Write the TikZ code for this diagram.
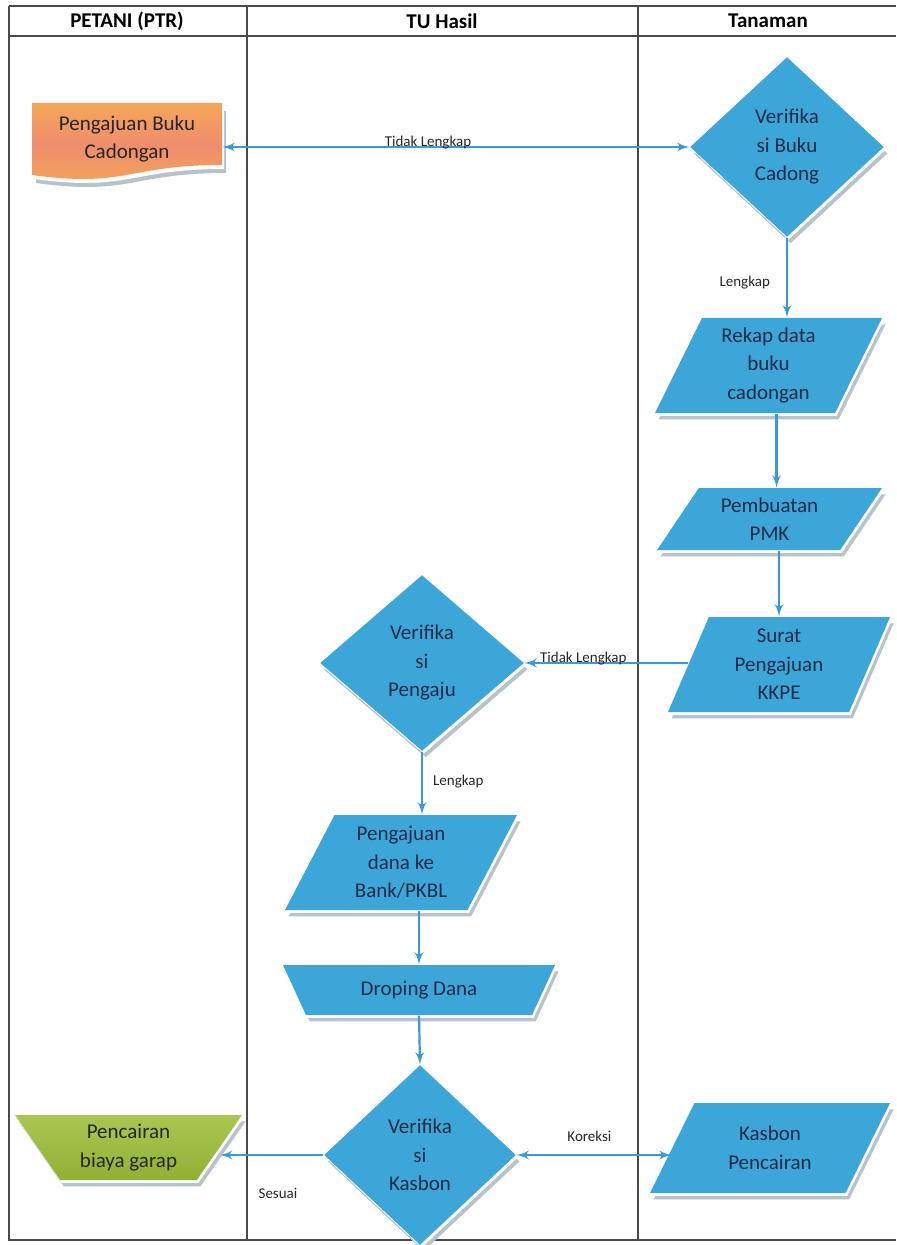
\documentclass[tikz,border=0pt]{standalone}
\usepackage{fontspec}
\setmainfont{Carlito}
\usetikzlibrary{
    arrows,
    shapes.geometric,
    shadows
}

\definecolor{flowblue}{HTML}{3DA6D9}
\definecolor{linkblue}{HTML}{3A9AD6}
\definecolor{navy}{HTML}{1D2B48}
\definecolor{framegrey}{HTML}{4A4A4A}
\definecolor{shadegrey}{HTML}{B7C2CA}
\definecolor{docorange}{HTML}{F5A65A}
\definecolor{docsalmon}{HTML}{EF8D6E}
\definecolor{garaplight}{HTML}{AAC653}
\definecolor{garapdark}{HTML}{92B132}

\begin{document}
\begin{tikzpicture}[x=0.5pt,y=-0.5pt,->,>=latex',semithick]
    \tikzstyle{every node}=[font=\fontsize{10.5}{14.25}\selectfont, align = center]
    \tikzstyle{bevel}=[drop shadow={shadow xshift=1.8pt, shadow yshift=-3.2pt, fill=shadegrey, opacity=1},
                       drop shadow={shadow xshift=0.8pt, shadow yshift=-1.4pt, fill=white, opacity=1}]
    \tikzstyle{decision}=[diamond, fill=flowblue, text=navy, inner sep=0pt, bevel]
    \tikzstyle{iobox}=[trapezium, trapezium stretches body=true, fill=flowblue, text=navy, inner xsep=1pt, bevel]
    \tikzstyle{manual}=[trapezium, trapezium stretches body=true, shape border rotate=180, inner xsep=1pt, bevel]
    \tikzstyle{lane}=[-, framegrey, line width=0.6pt]
    \tikzstyle{flow}=[linkblue, line width=1.1pt]
    \tikzstyle{tag}=[font=\fontsize{7.5}{9}\selectfont, text=black!85, inner sep=0pt]

    \useasboundingbox (0,0) rectangle (896,1245);

    \draw [lane, line width=1.2pt] (9,6) -- (896,6);
    \draw [lane] (9,36) -- (896,36);
    \draw [lane] (9,6) -- (9,1240) -- (896,1240);
    \draw [lane] (247,6) -- (247,1240);
    \draw [lane] (638,6) -- (638,1240);

    \node [font=\bfseries\fontsize{10.5}{14}\selectfont] (hPetani) at (127,21) {PETANI (PTR)};
    \node [font=\bfseries\fontsize{10.5}{14}\selectfont] (hTU) at (442,21) {TU Hasil};
    \node [font=\bfseries\fontsize{10.5}{14}\selectfont] (hTanaman) at (768,21) {Tanaman};

    \fill [-, shadegrey, shift={(4,8)}] (32,103) -- (222,103) -- (222,165) .. controls (127,165) and (127,188) .. (32,175) -- cycle;
    \fill [-, white, shift={(2,4)}] (32,103) -- (222,103) -- (222,165) .. controls (127,165) and (127,188) .. (32,175) -- cycle;
    \shade [-, top color=docorange, bottom color=docorange, middle color=docsalmon] (32,103) -- (222,103) -- (222,165) .. controls (127,165) and (127,188) .. (32,175) -- cycle;
    \node [text=black!85, minimum width=95pt, minimum height=38.5pt] (pengajuanBuku) at (127,139) {Pengajuan Buku\\Cadongan};

    \node [decision, minimum width=97pt, minimum height=90pt] (verBuku) at (787,147) {Verifika\\si Buku\\Cadong};
    \node [iobox, inner ysep=4.25pt, trapezium left angle=63, trapezium right angle=117, minimum width=113.5pt, minimum height=47.5pt] (rekap) at (768.5,365.5) {Rekap data\\buku\\cadongan};
    \node [iobox, inner ysep=3.1pt, trapezium left angle=53, trapezium right angle=127, minimum width=112.5pt, minimum height=31pt] (pmk) at (769.5,519) {Pembuatan\\PMK};
    \node [iobox, inner ysep=4.25pt, trapezium left angle=65, trapezium right angle=115, minimum width=111pt, minimum height=47.5pt] (surat) at (779,664.5) {Surat\\Pengajuan\\KKPE};

    \node [decision, minimum width=102pt, minimum height=88pt] (verAju) at (422,663) {Verifika\\si\\Pengaju};
    \node [iobox, inner ysep=4.25pt, trapezium left angle=61, trapezium right angle=119, minimum width=116pt, minimum height=47.5pt] (danaBank) at (401,862.5) {Pengajuan\\dana ke\\Bank/PKBL};
    \node [manual, inner ysep=7.25pt, fill=flowblue, text=navy, trapezium left angle=64, trapezium right angle=64, minimum width=136pt, minimum height=25pt] (droping) at (419,990) {Droping Dana};
    \node [decision, minimum width=96pt, minimum height=90pt] (verKasbon) at (420,1155) {Verifika\\si\\Kasbon};

    \node [manual, inner ysep=3.9pt, top color=garaplight, bottom color=garapdark, text=black!85, trapezium left angle=54, trapezium right angle=54, minimum width=113.5pt, minimum height=32.5pt] (pencairan) at (128.5,1147.5) {Pencairan\\biaya garap};
    \node [iobox, inner ysep=10.1pt, trapezium left angle=62, trapezium right angle=118, minimum width=120pt, minimum height=45pt] (kasbon) at (770,1148) {Kasbon\\Pencairan};

    \draw [flow, <->] (pengajuanBuku.east |- verBuku.west) -- node[tag, above, pos=0.44, yshift=-1.5pt] {Tidak Lengkap} (verBuku.west);
    \draw [flow] (verBuku.south) -- node[tag, left=8pt, pos=0.57] {Lengkap} (verBuku.south |- rekap.north);
    \draw [flow] ([xshift=4pt]rekap.south) -- ([xshift=4pt]rekap.south |- pmk.north);
    \draw [flow] (pmk.south -| surat.north) -- (surat.north);
    \draw [flow] (surat.west |- verAju.east) -- node[tag, above, pos=0.64, yshift=-1.5pt] {Tidak Lengkap} (verAju.east);
    \draw [flow] (verAju.south) -- node[tag, right=5pt, pos=0.48] {Lengkap} (verAju.south |- danaBank.north);
    \draw [flow] (droping.north |- danaBank.south) -- (droping.north);
    \draw [flow] (droping.south) -- (verKasbon.north);
    \draw [flow] (verKasbon.west) -- node[tag, below=16pt, pos=0.44] {Sesuai} (verKasbon.west -| pencairan.east);
    \draw [flow, <->] (verKasbon.east) -- node[tag, above=6pt, pos=0.47] {Koreksi} (verKasbon.east -| kasbon.west);
\end{tikzpicture}
\end{document}
